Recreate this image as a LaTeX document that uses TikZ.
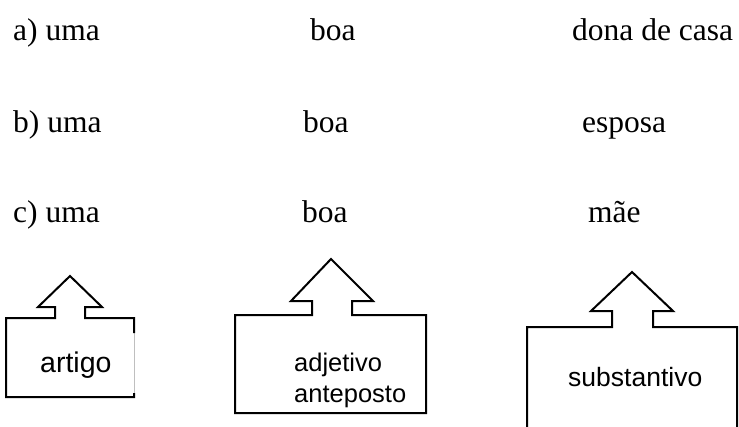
\documentclass[tikz,border=0pt]{standalone}
\usepackage{fontspec}
\setmainfont{Liberation Serif}
\setsansfont{Liberation Sans}
\tikzset{
  word/.style={inner sep=0pt,anchor=base west,font=\fontsize{31.5}{37}\selectfont},
  tag/.style={inner sep=0pt,anchor=base west,font=\sffamily\fontsize{25.5}{30}\selectfont},
  outline/.style={draw=black,line width=2pt,line join=miter}
}
\begin{document}
\begin{tikzpicture}[x=1pt,y=-1pt]
\useasboundingbox (0,0) rectangle (739,426);
\clip (0,0) rectangle (739,426);

% example sentences
\node[word] (a1) at (13,40) {a) uma};
\node[word] (a2) at (310,40) {boa};
\node[word] (a3) at (572,40) {dona de casa};
\node[word] (b1) at (13,132) {b) uma};
\node[word] (b2) at (303,132) {boa};
\node[word] (b3) at (582,132) {esposa};
\node[word] (c1) at (13,222) {c) uma};
\node[word] (c2) at (302,222) {boa};
\node[word] (c3) at (588,222) {mãe};

% artigo
\draw[black!25,line width=0.5pt] (134,318) -- (134,397);
\draw[outline] (134,333) -- (134,318) -- (85,318) -- (85,307) -- (102,307) -- (70,276)
  -- (38,307) -- (55,307) -- (55,318) -- (6,318) -- (6,397) -- (134,397) -- (134,393);
\node[tag,font=\sffamily\fontsize{28.5}{32}\selectfont] (art) at (40,372) {artigo};

% adjetivo anteposto
\draw[outline] (235,413) -- (235,315) -- (312,315) -- (312,301) -- (291,301) -- (331,259)
  -- (373,301) -- (352,301) -- (352,315) -- (426,315) -- (426,413) -- cycle;
\node[tag] (adj) at (294,371) {adjetivo};
\node[tag] (ant) at (294,402) {anteposto};

% substantivo
\draw[outline] (527,440) -- (527,327) -- (612,327) -- (612,311) -- (591,311) -- (632,272)
  -- (673,311) -- (653,311) -- (653,327) -- (737,327) -- (737,440);
\node[tag,font=\sffamily\fontsize{26.5}{30}\selectfont] (sub) at (568,386) {substantivo};
\end{tikzpicture}
\end{document}
